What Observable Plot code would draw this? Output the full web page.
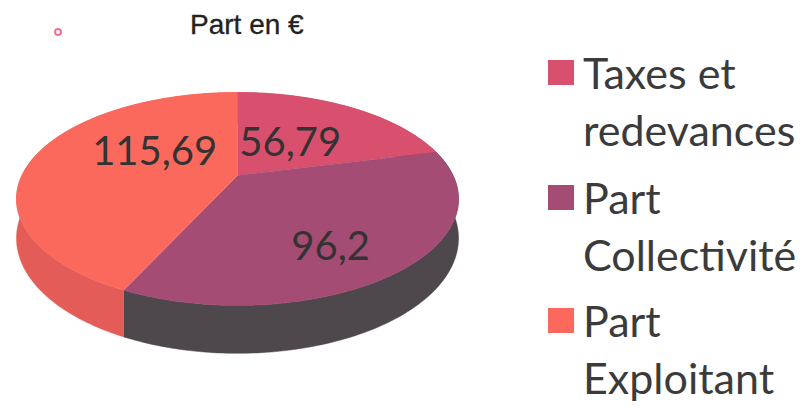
<!DOCTYPE html>
<html>
<head>
<meta charset="utf-8">
<script src="https://cdn.jsdelivr.net/npm/d3@7"></script>
<script src="https://cdn.jsdelivr.net/npm/@observablehq/plot@0.6"></script>
<style>
  html, body { margin: 0; padding: 0; background: #fff; }
  #wrap { position: relative; width: 807px; height: 408px; overflow: hidden; }
  #title { position: relative; height: 50px; }
  #title .t { position: absolute; left: 190px; top: 9px; font-family: "Liberation Sans", Arial, sans-serif; font-size: 28px; color: #222; white-space: nowrap; -webkit-text-stroke: 0.3px #222; }
  #title .dot { position: absolute; left: 54px; top: 28px; width: 4px; height: 4px; border: 2px solid #f2728f; border-radius: 50%; }
  #chart svg { display: block; }
  #legend { position: absolute; left: 0; top: 0; width: 807px; height: 408px; pointer-events: none; }
  .item { position: absolute; left: 548px; }
  .sq { position: absolute; left: 0; width: 26px; height: 25px; }
  .lbl { position: absolute; left: 35px; top: 0; font-family: Lato, "Open Sans", sans-serif; font-size: 43px; line-height: 57px; color: #3b3b3b; white-space: nowrap; }
</style>
</head>
<body>
<div id="wrap">
  <div id="title"><span class="dot"></span><span class="t">Part en €</span></div>
  <div id="chart"></div>
  <div id="legend"></div>
</div>
<script>
// ---- data ----
const categories = ["Taxes et redevances", "Part Collectivité", "Part Exploitant"];
const values = [56.79, 96.2, 115.69];
const valueLabels = ["56,79", "96,2", "115,69"];
const legendLines = [["Taxes et", "redevances"], ["Part", "Collectivité"], ["Part", "Exploitant"]];
const topColors = ["#d9506f", "#a44c74", "#fb695d"];
const sideColors = ["#a83a52", "#4e474c", "#e35c58"];

// ---- geometry (styling) ----
const W = 807, H = 358, OFF = 50;
const cx = 237, cy = 175 - OFF, A = 215.6, B = 101.3, persp = 0.22, depth = 37.4;
const labelNudge = [[-14, 8], [10, 24], [30, -12]]; // label offsets in px
function proj(theta, r, down = 0) {
  const u = r * Math.sin(theta), v = r * Math.cos(theta);
  const d = 1 + persp * v;
  return [cx + A * u / d, cy - B * v / d + down / d];
}

const arcs = d3.pie().sort(null).value(d => d)(values);
const tops = [], walls = [], labelData = [];
arcs.forEach((a, i) => {
  const n = Math.max(2, Math.ceil((a.endAngle - a.startAngle) / (Math.PI / 180)));
  const id = categories[i];
  tops.push({id, i, x: cx, y: cy});
  const topArc = [], botArc = [];
  for (let k = 0; k <= n; k++) {
    const t = a.startAngle + (a.endAngle - a.startAngle) * k / n;
    const [x, y] = proj(t, 1);
    const [xb, yb] = proj(t, 1, depth);
    topArc.push({id, i, x, y});
    botArc.push({id, i, x: xb, y: yb});
  }
  tops.push(...topArc);
  walls.push(...topArc, ...botArc.reverse());
  const mid = (a.startAngle + a.endAngle) / 2;
  const [lx, ly] = proj(mid, 0.55);
  labelData.push({i, x: lx, y: ly, text: valueLabels[i]});
});

const marks = [];
categories.forEach((c, i) => {
  marks.push(Plot.line(walls.filter(d => d.i === i), {x: "x", y: "y", fill: sideColors[i], stroke: sideColors[i], strokeWidth: 0.5}));
});
categories.forEach((c, i) => {
  marks.push(Plot.line(tops.filter(d => d.i === i), {x: "x", y: "y", fill: topColors[i], stroke: topColors[i], strokeWidth: 0.5}));
});
categories.forEach((c, i) => {
  marks.push(Plot.text(labelData.filter(d => d.i === i), {x: "x", y: "y", text: "text", dx: labelNudge[i][0], dy: labelNudge[i][1], fontSize: 40, fontFamily: "Lato, sans-serif", fill: "#333"}));
});

const chart = Plot.plot({
  width: W, height: H,
  margin: 0,
  x: {domain: [0, W], range: [0, W], axis: null},
  y: {domain: [0, H], range: [0, H], axis: null},
  marks
});
document.getElementById("chart").appendChild(chart);

// ---- legend ----
const legendTops = [60, 185, 308];
const leg = document.getElementById("legend");
categories.forEach((c, i) => {
  const it = document.createElement("div");
  it.className = "item";
  it.style.top = (legendTops[i] - 16) + "px";
  const sq = document.createElement("div");
  sq.className = "sq";
  sq.style.top = "16px";
  sq.style.background = topColors[i];
  const lb = document.createElement("div");
  lb.className = "lbl";
  lb.innerHTML = legendLines[i].join("<br>");
  it.appendChild(sq); it.appendChild(lb);
  leg.appendChild(it);
});
</script>
</body>
</html>
